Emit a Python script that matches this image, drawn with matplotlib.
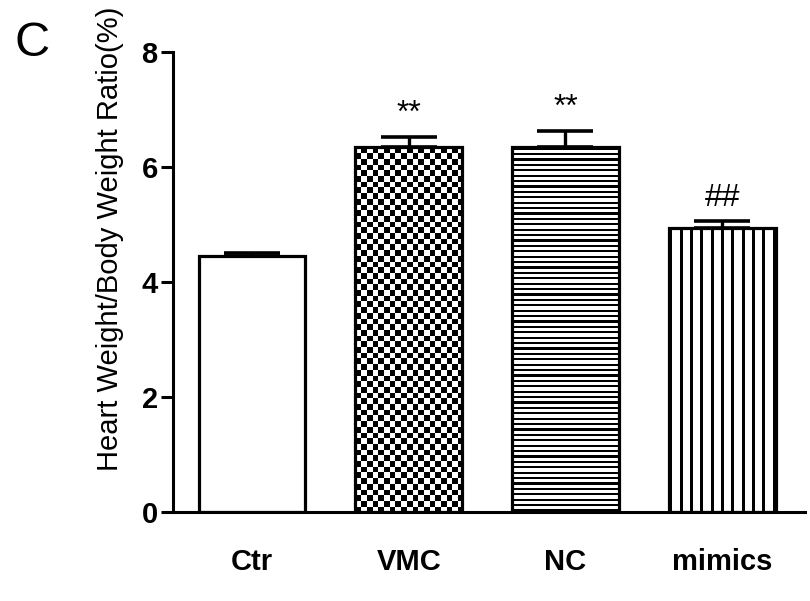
import matplotlib
matplotlib.use('Agg')
import matplotlib.pyplot as plt
import numpy as np

plt.rcParams['font.family'] = ['Liberation Sans', 'DejaVu Sans']

groups = ['Ctr', 'VMC', 'NC', 'mimics']
ratio = [4.45, 6.35, 6.35, 4.94]
sem = [0.06, 0.18, 0.28, 0.12]
marks = ['', '**', '**', '##']
patterns = [None, 'check', 'hline', 'vline']

fig = plt.figure(figsize=(8.1, 6.01), dpi=100)
ax = fig.add_axes([0.2136, 0.148, 0.78, 0.765])

x = np.arange(len(groups))
bars = ax.bar(x, ratio, width=0.68, facecolor='none', edgecolor='black',
              linewidth=2.3, zorder=3)
ax.errorbar(x, ratio, yerr=[np.zeros(len(sem)), sem], fmt='none', ecolor='black',
            elinewidth=2.4, capsize=20, capthick=2.6, zorder=4)

ax.set_xlim(-0.504, 3.527)
ax.set_ylim(0, 8)

# fill patterns drawn in pixel units, clipped to each bar
for bar, kind in zip(bars, patterns):
    if kind is None:
        continue
    x0, y0 = bar.get_x(), bar.get_y()
    w, h = bar.get_width(), bar.get_height()
    (px0, py0), (px1, py1) = ax.transData.transform([(x0, y0), (x0 + w, y0 + h)])
    nw, nh = int(round(px1 - px0)), int(round(py1 - py0))
    yy, xx = np.mgrid[0:nh, 0:nw]
    if kind == 'check':
        img = ((xx // 5.7).astype(int) + (yy // 5.7).astype(int)) % 2
    elif kind == 'hline':
        img = ((yy % 5.4) < 2.2).astype(int)
    else:
        img = ((xx % 10.3) < 3).astype(int)
    ax.imshow(img, cmap='gray_r', vmin=0, vmax=1, extent=(x0, x0 + w, y0, y0 + h),
              origin='upper', interpolation='nearest', aspect='auto',
              clip_path=bar, zorder=2)

ax.set_xlim(-0.504, 3.527)
ax.set_ylim(0, 8)

for xi, v, e, m in zip(x, ratio, sem, marks):
    if m:
        ax.annotate(m, (xi, v + e), xytext=(0, 11), textcoords='offset points',
                    ha='center', va='baseline', fontsize=23)

ax.spines['top'].set_visible(False)
ax.spines['right'].set_visible(False)
ax.spines['left'].set_linewidth(2.2)
ax.spines['bottom'].set_linewidth(2.2)

ax.set_yticks([0, 2, 4, 6, 8])
ax.tick_params(axis='y', direction='out', length=9, width=2.2, pad=2, labelsize=21)
for t in ax.get_yticklabels():
    t.set_fontweight('bold')
ax.set_xticks(x)
ax.set_xticklabels(groups, fontsize=21, fontweight='bold')
ax.tick_params(axis='x', length=0, pad=26)

ax.set_ylabel('Heart Weight/Body Weight Ratio(%)', fontsize=21)
ax.yaxis.set_label_coords(-0.077, 0.594)

fig.text(0.018, 0.965, 'C', fontsize=35, va='top', ha='left')

fig.savefig('out.png', dpi=100, facecolor='white')
